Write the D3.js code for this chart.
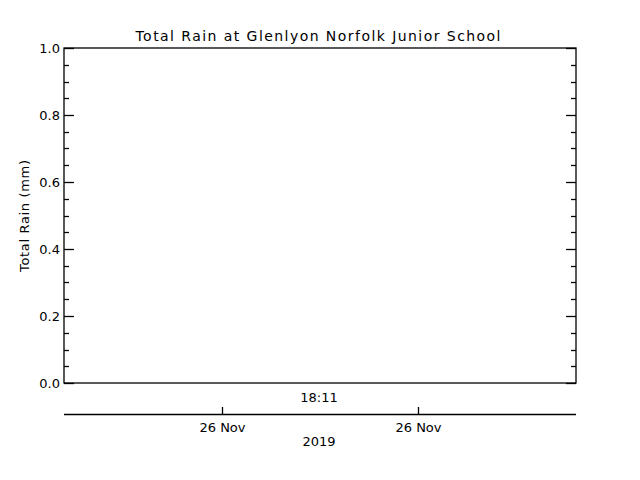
<!DOCTYPE html>
<html>
<head>
<meta charset="utf-8">
<script src="https://cdn.jsdelivr.net/npm/d3@7"></script>
<style>
  body { margin: 0; background: #fff; }
  text { font-family: "DejaVu Sans", sans-serif; fill: #000; }
</style>
</head>
<body>
<svg id="chart" width="640" height="480"></svg>
<script>
// chart values
const title = "Total Rain at Glenlyon Norfolk Junior School";
const yLabel = "Total Rain (mm)";
const rainTimes = [];   // no readings in this window
const rainValues = [];
const yTicks = [0.0, 0.2, 0.4, 0.6, 0.8, 1.0];
const xDomain = ["2019-11-25T14:20", "2019-11-26T21:41"];
const xTicks = ["2019-11-26T00:00", "2019-11-26T12:00"];
const xTickLabels = ["26 Nov", "26 Nov"];
const timeLabel = "18:11";
const yearLabel = "2019";

const parse = d3.timeParse("%Y-%m-%dT%H:%M");
const svg = d3.select("#chart");
const plotL = 64, plotR = 576, plotT = 48, plotB = 383;

const x = d3.scaleTime().domain(xDomain.map(parse)).range([plotL, plotR]);
const y = d3.scaleLinear().domain([0, 1]).range([plotB, plotT]);

// frame
svg.append("rect")
  .attr("x", plotL).attr("y", plotT)
  .attr("width", plotR - plotL).attr("height", plotB - plotT)
  .attr("fill", "none").attr("stroke", "#000").attr("stroke-width", 1.3);

// y ticks, both sides
const minor = d3.range(0, 1.0001, 0.05);
minor.forEach(v => {
  const major = Math.abs(v * 5 - Math.round(v * 5)) < 1e-6;
  const len = major ? 10 : 5;
  svg.append("line").attr("x1", plotL).attr("x2", plotL + len)
    .attr("y1", Math.round(y(v)) + 0.5).attr("y2", Math.round(y(v)) + 0.5)
    .attr("stroke", "#000").attr("stroke-width", 1.3);
  svg.append("line").attr("x1", plotR).attr("x2", plotR - len)
    .attr("y1", Math.round(y(v)) + 0.5).attr("y2", Math.round(y(v)) + 0.5)
    .attr("stroke", "#000").attr("stroke-width", 1.3);
});

svg.selectAll(".ylab").data(yTicks).enter().append("text")
  .attr("x", plotL - 4).attr("y", d => y(d) + 5)
  .attr("text-anchor", "end").attr("font-size", 13)
  .text(d => d3.format(".1f")(d));

// rain line (empty)
const line = d3.line().x((d, i) => x(parse(rainTimes[i]))).y(d => y(d));
svg.append("path").datum(rainValues)
  .attr("d", line).attr("fill", "none").attr("stroke", "#000");

// title
svg.append("text").attr("x", 318).attr("y", 41)
  .attr("text-anchor", "middle").attr("font-size", 14)
  .attr("textLength", 365).attr("lengthAdjust", "spacing")
  .text(title);

// y label
svg.append("text")
  .attr("transform", "translate(29,216) rotate(-90)")
  .attr("text-anchor", "middle").attr("font-size", 13)
  .attr("textLength", 112).attr("lengthAdjust", "spacing")
  .text(yLabel);

// time label under the frame
svg.append("text").attr("x", 319).attr("y", 402)
  .attr("text-anchor", "middle").attr("font-size", 13)
  .text(timeLabel);

// date axis
const axisY = 414;
svg.append("line").attr("x1", plotL).attr("x2", plotR)
  .attr("y1", axisY + 0.5).attr("y2", axisY + 0.5)
  .attr("stroke", "#000").attr("stroke-width", 1.3);
xTicks.forEach((t, i) => {
  const px = Math.round(x(parse(t))) + 0.5;
  svg.append("line").attr("x1", px).attr("x2", px)
    .attr("y1", axisY).attr("y2", axisY - 7)
    .attr("stroke", "#000").attr("stroke-width", 1.3);
  svg.append("text").attr("x", px).attr("y", 432)
    .attr("text-anchor", "middle").attr("font-size", 13)
    .text(xTickLabels[i]);
});
svg.append("text").attr("x", 319).attr("y", 446)
  .attr("text-anchor", "middle").attr("font-size", 13)
  .text(yearLabel);
</script>
</body>
</html>
